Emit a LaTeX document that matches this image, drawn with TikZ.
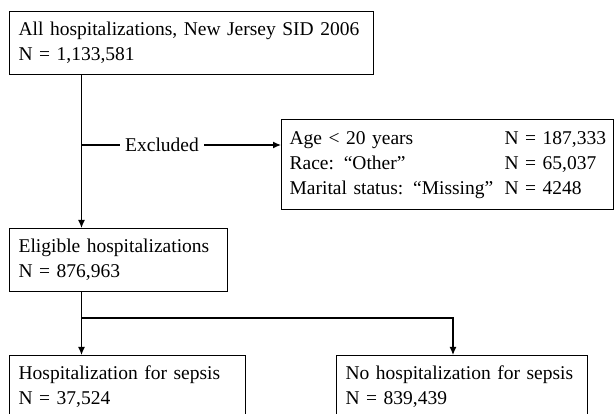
\documentclass[tikz,border=0pt]{standalone}
\usepackage{fontspec}
\setmainfont{Liberation Serif}
\usetikzlibrary{arrows.meta}
\tikzset{
    box/.style={draw=black, line width=1.3pt, anchor=north west, align=left, inner xsep=9pt, inner ysep=0pt, minimum height=63pt, font=\fontsize{19.5}{25}\selectfont},
    link/.style={black, line width=1.3pt},
    arr/.style={link, -{Latex[length=8pt,width=7pt]}},
}
\begin{document}
\begin{tikzpicture}[x=1pt,y=-1pt]
    \useasboundingbox (0,0) rectangle (614,414);
    \node[box, text width=346pt] (all) at (9,11) {\begin{tabular}{@{}l@{}}
        All hospitalizations, New Jersey SID 2006\\
        N = 1,133,581
    \end{tabular}};
    \node[box, text width=316pt, inner xsep=8pt, minimum height=90pt] (excl) at (281,119) {\begin{tabular}{@{}p{215pt}@{}l@{}}
        Age < 20 years & N = 187,333\\
        Race: “Other” & N = 65,037\\
        Marital status: “Missing” & N = 4248
    \end{tabular}};
    \node[box, text width=200pt] (elig) at (9,228) {\begin{tabular}{@{}l@{}}
        Eligible hospitalizations\\
        N = 876,963
    \end{tabular}};
    \node[box, text width=218pt] (sepsis) at (9,355) {\begin{tabular}{@{}l@{}}
        Hospitalization for sepsis\\
        N = 37,524
    \end{tabular}};
    \node[box, text width=233pt] (nosepsis) at (336,355) {\begin{tabular}{@{}l@{}}
        No hospitalization for sepsis\\
        N = 839,439
    \end{tabular}};
    \node[font=\fontsize{19.5}{25}\selectfont, inner xsep=5pt] (extext) at (162,145) {Excluded};
    \coordinate (stem) at (81.5,145);
    \coordinate (fork) at (81.5,318);
    \coordinate (rightdrop) at (453,318);
    \draw[arr] (all.south -| stem) -- (elig.north -| stem);
    \draw[link] (stem) -- (extext.west);
    \draw[arr] (extext.east) -- (stem -| excl.west);
    \draw[link] (elig.south -| fork) -- (fork);
    \draw[arr] (fork) -- (sepsis.north -| fork);
    \draw[arr] (fork) -- (rightdrop) -- (nosepsis.north -| rightdrop);
\end{tikzpicture}
\end{document}
